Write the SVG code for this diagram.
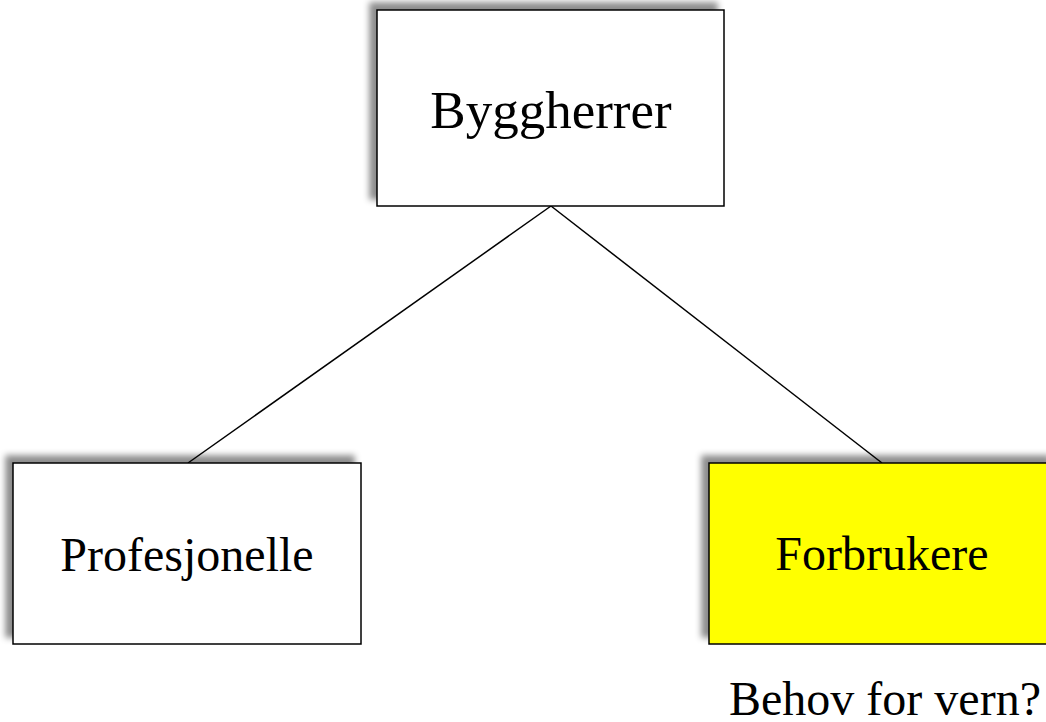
<svg xmlns="http://www.w3.org/2000/svg" width="1046" height="722" viewBox="0 0 1046 722">
<defs>
<filter id="sh" x="-20%" y="-20%" width="140%" height="140%">
<feDropShadow dx="-7" dy="-7" stdDeviation="3" flood-color="#000" flood-opacity="0.45"/>
</filter>
<style>
.box{stroke:#000;stroke-width:1.5;filter:url(#sh)}
.t{font-family:"Liberation Serif","Times New Roman",serif;fill:#000;text-anchor:middle}
.c{stroke:#000;stroke-width:1.5;fill:none}
</style>
</defs>
<rect width="1046" height="722" fill="#fff"/>
<g id="connectors">
<line class="c" x1="551" y1="206" x2="188" y2="463"/>
<line class="c" x1="551" y1="206" x2="882" y2="463"/>
</g>
<g id="byggherrer">
<rect class="box" x="377" y="10" width="347" height="196" fill="#fff"/>
<text class="t" x="551" y="128" font-size="53">Byggherrer</text>
</g>
<g id="profesjonelle">
<rect class="box" x="13" y="463" width="348" height="181" fill="#fff"/>
<text class="t" x="187" y="571" font-size="48">Profesjonelle</text>
</g>
<g id="forbrukere">
<rect class="box" x="709" y="463" width="348" height="181" fill="#ffff00"/>
<text class="t" x="882" y="570" font-size="48">Forbrukere</text>
</g>
<text class="t" x="885" y="715" font-size="48">Behov for vern?</text>
</svg>
